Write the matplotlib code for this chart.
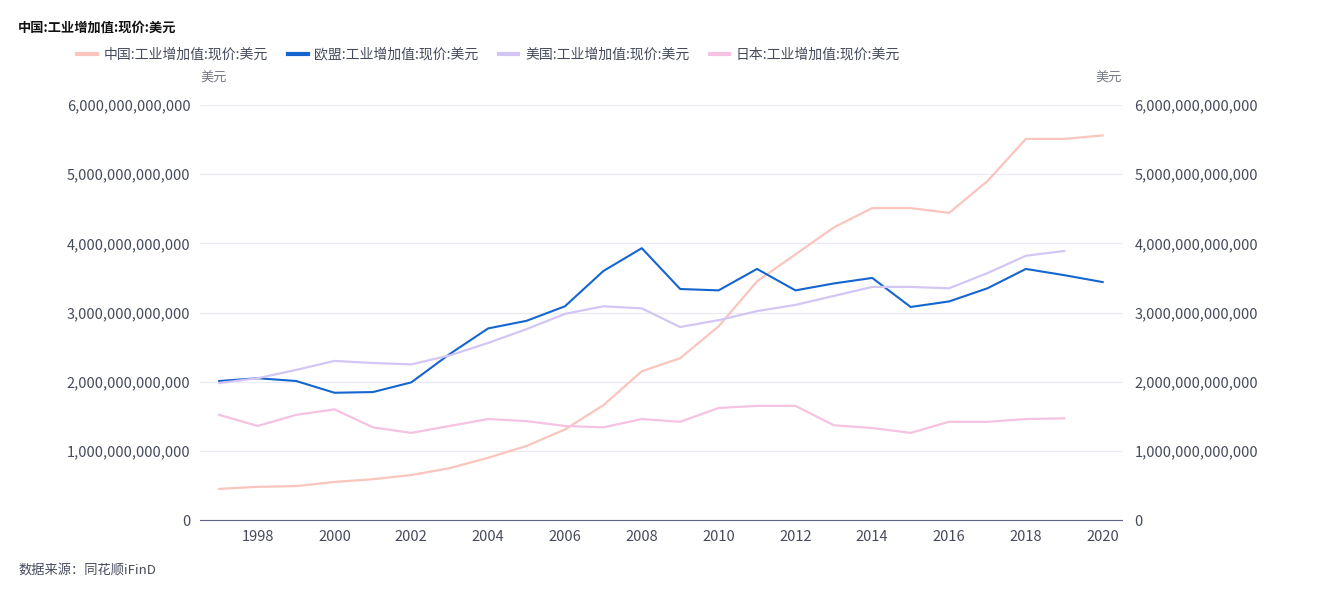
import numpy as np
import matplotlib.pyplot as plt
from matplotlib.ticker import FuncFormatter

plt.rcParams['font.family'] = ['Noto Sans CJK SC', 'DejaVu Sans']

years = list(range(1997, 2021))

# 工业增加值, 单位: 万亿美元
china = [0.45, 0.48, 0.49, 0.55, 0.59, 0.65, 0.75, 0.90, 1.07, 1.31, 1.66, 2.15,
         2.34, 2.80, 3.45, 3.84, 4.23, 4.51, 4.51, 4.44, 4.90, 5.51, 5.51, 5.56]
eu = [2.01, 2.05, 2.01, 1.84, 1.85, 1.99, 2.40, 2.77, 2.88, 3.09, 3.60, 3.93,
      3.34, 3.32, 3.63, 3.32, 3.42, 3.50, 3.08, 3.16, 3.35, 3.63, 3.54, 3.44]
us = [1.98, 2.05, 2.17, 2.30, 2.27, 2.25, 2.38, 2.56, 2.76, 2.98, 3.09, 3.06,
      2.79, 2.89, 3.02, 3.11, 3.24, 3.37, 3.37, 3.35, 3.57, 3.82, 3.89]
japan = [1.52, 1.36, 1.52, 1.60, 1.34, 1.26, 1.36, 1.46, 1.43, 1.36, 1.34, 1.46,
         1.42, 1.62, 1.65, 1.65, 1.37, 1.33, 1.26, 1.42, 1.42, 1.46, 1.47]

names = ['中国:工业增加值:现价:美元', '欧盟:工业增加值:现价:美元',
         '美国:工业增加值:现价:美元', '日本:工业增加值:现价:美元']
colors = ['#f9c5bd', '#1565cf', '#d3c6f4', '#f6c2e1']
series = [china, eu, us, japan]

text_c = '#464b5c'
fig = plt.figure(figsize=(13.23, 5.98), dpi=100)
ax = fig.add_axes([0.1512, 0.1304, 0.6968, 0.694])

for vals, col, name in zip(series, colors, names):
    x = years[:len(vals)]
    ax.plot(x, np.array(vals) * 1e12, color=col, lw=1.6 if col != '#1565cf' else 1.5,
            label=name)

ax.set_xlim(1996.5, 2020.5)
ax.set_ylim(0, 6e12)
ax.set_yticks(np.arange(0, 7e12, 1e12))
ax.set_xticks(range(1998, 2021, 2))
fmt = FuncFormatter(lambda v, p: f'{int(round(v)):,}')
ax.yaxis.set_major_formatter(fmt)
ax.grid(axis='y', color='#ebeaf4', lw=0.9)
ax.set_axisbelow(True)
for s in ['top', 'right', 'left']:
    ax.spines[s].set_visible(False)
ax.spines['bottom'].set_color('#5e6285')
ax.tick_params(axis='both', length=0, labelsize=10.5, colors=text_c)
ax.tick_params(axis='y', pad=7)
ax.tick_params(axis='x', pad=7)

ax2 = ax.twinx()
ax2.set_ylim(ax.get_ylim())
ax2.set_yticks(np.arange(0, 7e12, 1e12))
ax2.yaxis.set_major_formatter(fmt)
for s in ['top', 'right', 'left', 'bottom']:
    ax2.spines[s].set_visible(False)
ax2.tick_params(axis='y', length=0, labelsize=10.5, colors=text_c, pad=9)

fig.text(0.0136, 0.953, '中国:工业增加值:现价:美元', fontsize=9.5, fontweight='bold',
         color='#111111', va='center')
fig.text(0.1512, 0.869, '美元', fontsize=9.5, color='#777a88', va='center')
fig.text(0.848, 0.869, '美元', fontsize=9.5, color='#777a88', va='center', ha='right')
fig.text(0.0136, 0.046, '数据来源：同花顺iFinD', fontsize=9.5, color=text_c, va='center')

leg = fig.legend(loc='center left', bbox_to_anchor=(0.049, 0.909), ncol=4, frameon=False,
                 fontsize=10, handlelength=1.4, handletextpad=0.5, columnspacing=1.45,
                 labelcolor=text_c)
for h in leg.get_lines():
    h.set_linewidth(3)

fig.savefig('out.png', dpi=100)
